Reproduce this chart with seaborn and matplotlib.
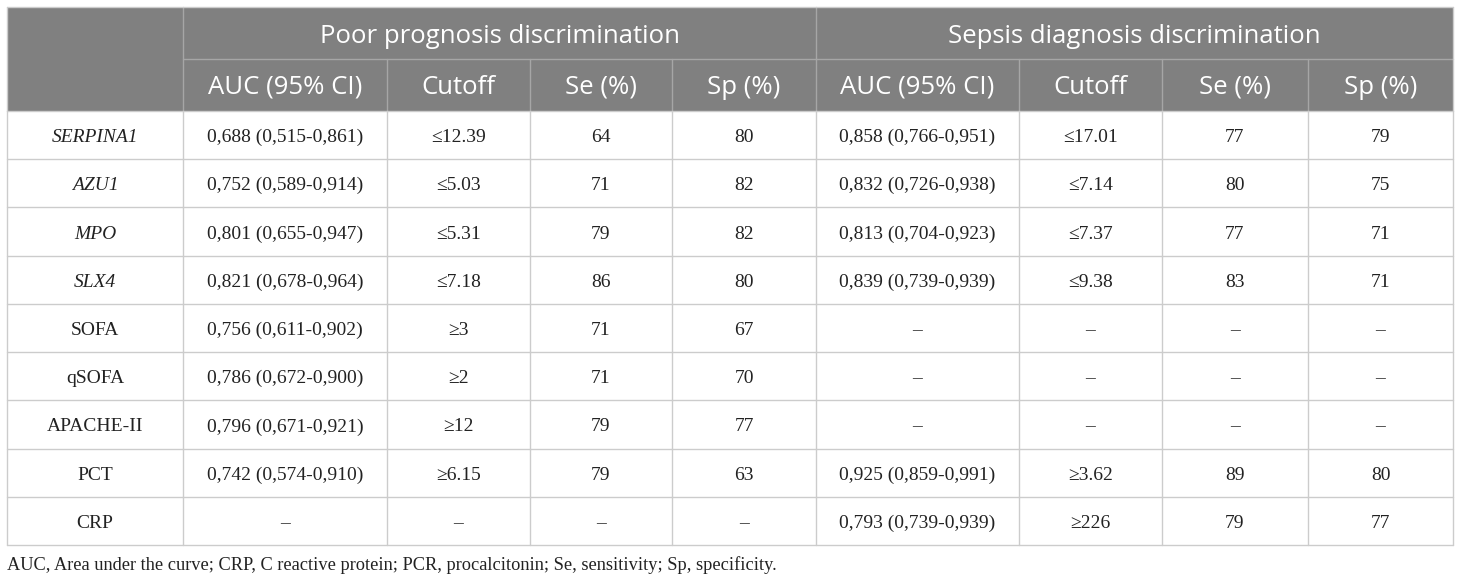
"""
Table: AUC / cutoff / Se / Sp for poor prognosis and sepsis diagnosis
"""
import matplotlib
matplotlib.use("Agg")
import matplotlib.pyplot as plt
import matplotlib.patches as mpatches
import seaborn as sns

sns.set_theme(style="white")

# ── Données ──────────────────────────────────────────────────────────────────
markers = ["SERPINA1", "AZU1", "MPO", "SLX4", "SOFA", "qSOFA", "APACHE-II", "PCT", "CRP"]
italic_markers = ["SERPINA1", "AZU1", "MPO", "SLX4"]

group_titles = ["Poor prognosis discrimination", "Sepsis diagnosis discrimination"]
sub_headers = ["AUC (95% CI)", "Cutoff", "Se (%)", "Sp (%)"]

prog_auc = ["0,688 (0,515-0,861)", "0,752 (0,589-0,914)", "0,801 (0,655-0,947)",
            "0,821 (0,678-0,964)", "0,756 (0,611-0,902)", "0,786 (0,672-0,900)",
            "0,796 (0,671-0,921)", "0,742 (0,574-0,910)", "–"]
prog_cut = ["≤12.39", "≤5.03", "≤5.31", "≤7.18", "≥3", "≥2", "≥12", "≥6.15", "–"]
prog_se = ["64", "71", "79", "86", "71", "71", "79", "79", "–"]
prog_sp = ["80", "82", "82", "80", "67", "70", "77", "63", "–"]

sep_auc = ["0,858 (0,766-0,951)", "0,832 (0,726-0,938)", "0,813 (0,704-0,923)",
           "0,839 (0,739-0,939)", "–", "–", "–", "0,925 (0,859-0,991)",
           "0,793 (0,739-0,939)"]
sep_cut = ["≤17.01", "≤7.14", "≤7.37", "≤9.38", "–", "–", "–", "≥3.62", "≥226"]
sep_se = ["77", "80", "77", "83", "–", "–", "–", "89", "79"]
sep_sp = ["79", "75", "71", "71", "–", "–", "–", "80", "77"]

footnote = ("AUC, Area under the curve; CRP, C reactive protein; PCR, procalcitonin; "
            "Se, sensitivity; Sp, specificity.")

columns = [markers, prog_auc, prog_cut, prog_se, prog_sp,
           sep_auc, sep_cut, sep_se, sep_sp]

# ── Mise en page (pixels) ────────────────────────────────────────────────────
W, H = 1460, 583
col_edges = [7, 183, 387, 530, 672, 816, 1019, 1162, 1308, 1453]
head_edges = [7, 59, 111]
row_h = (545 - 111) / len(markers)
row_edges = [111 + i * row_h for i in range(len(markers) + 1)]

head_bg = "#808080"
head_line = "#a6a6a6"
grid_col = "#cccccc"
sans = ["Open Sans", "DejaVu Sans"]
serif = ["Liberation Serif", "DejaVu Serif"]

fig = plt.figure(figsize=(W / 100, H / 100), dpi=100)
ax = fig.add_axes([0, 0, 1, 1])
ax.set_xlim(0, W)
ax.set_ylim(H, 0)
ax.axis("off")

# fond d'en-tête
ax.add_patch(mpatches.Rectangle((col_edges[0], head_edges[0]),
                                col_edges[-1] - col_edges[0], head_edges[2] - head_edges[0],
                                facecolor=head_bg, edgecolor="none", zorder=1))

# lignes de l'en-tête
ax.plot([col_edges[1], col_edges[-1]], [head_edges[1]] * 2, color=head_line, lw=1, zorder=2)
for x in [col_edges[1], col_edges[5]]:
    ax.plot([x, x], [head_edges[0], head_edges[2]], color=head_line, lw=1, zorder=2)
for x in col_edges[2:5] + col_edges[6:9]:
    ax.plot([x, x], [head_edges[1], head_edges[2]], color=head_line, lw=1, zorder=2)

# titres de groupes (alignés sur la ligne de base)
for g, title in enumerate(group_titles):
    x0, x1 = col_edges[1 + 4 * g], col_edges[5 + 4 * g]
    ax.text((x0 + x1) / 2, (head_edges[0] + head_edges[1]) / 2 + 10, title,
            ha="center", va="baseline", color="white", fontsize=18.5, family=sans, zorder=3)
    for k, sub in enumerate(sub_headers):
        c = 1 + 4 * g + k
        ax.text((col_edges[c] + col_edges[c + 1]) / 2, (head_edges[1] + head_edges[2]) / 2 + 9,
                sub, ha="center", va="baseline", color="white", fontsize=18.5,
                family=sans, zorder=3)

# grille du corps
for y in row_edges:
    ax.plot([col_edges[0], col_edges[-1]], [y, y], color=grid_col, lw=1, zorder=2)
for x in col_edges:
    ax.plot([x, x], [row_edges[0], row_edges[-1]], color=grid_col, lw=1, zorder=2)
# bord extérieur de l'en-tête
for x in [col_edges[0], col_edges[-1]]:
    ax.plot([x, x], [head_edges[0], head_edges[2]], color=grid_col, lw=1, zorder=2)
ax.plot([col_edges[0], col_edges[-1]], [head_edges[0]] * 2, color=grid_col, lw=1, zorder=2)

# cellules
for c, col in enumerate(columns):
    xc = (col_edges[c] + col_edges[c + 1]) / 2
    for r, val in enumerate(col):
        yc = (row_edges[r] + row_edges[r + 1]) / 2
        style = "italic" if (c == 0 and val in italic_markers) else "normal"
        ax.text(xc, yc + 7, val, ha="center", va="baseline", fontsize=14,
                family=serif, style=style, color="#222222", zorder=3)

# note de bas de tableau
ax.text(col_edges[0], 570, footnote, ha="left", va="baseline", fontsize=13.2,
        family=serif, color="#222222")

fig.savefig("out.png", dpi=100)
plt.close()
